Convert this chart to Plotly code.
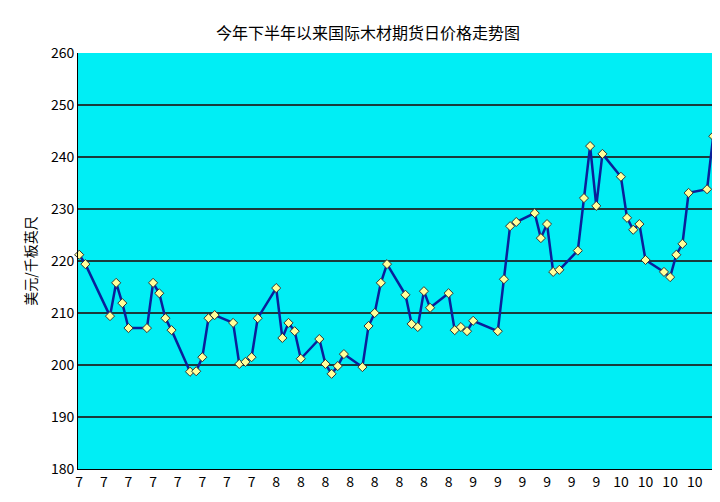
import plotly.graph_objects as go

day_index = [0,1,5,6,7,8,11,12,13,14,15,18,19,20,21,22,25,26,27,28,29,32,33,34,35,36,39,40,41,42,43,46,47,48,49,50,
             53,54,55,56,57,60,61,62,63,64,68,69,70,71,74,75,76,77,78,81,82,83,84,85,88,89,90,91,92,95,96,97,98,99,102,103,104,105]
price = [221.2,219.4,209.4,215.8,211.9,207.1,207.1,215.8,213.8,209.0,206.7,198.7,198.8,201.5,209.0,209.6,208.1,200.2,200.6,201.5,209.0,214.8,205.2,208.1,206.5,201.2,205.0,200.2,198.3,199.8,202.1,199.6,207.5,210.0,215.8,219.4,
         213.5,207.9,207.3,214.2,211.0,213.8,206.7,207.3,206.5,208.5,206.5,216.5,226.7,227.5,229.2,224.4,227.1,217.9,218.3,222.0,232.1,242.1,230.6,240.6,236.2,228.3,226.0,227.1,220.2,217.9,216.9,221.2,223.3,233.1,233.8,244.0,254.2,253.3]
tick_pos = list(range(0, 101, 4))
tick_text = ["7"]*8 + ["8"]*8 + ["9"]*6 + ["10"]*4

fig = go.Figure(go.Scatter(
    x=day_index, y=price, mode="lines+markers", cliponaxis=False,
    line=dict(color="#0a1f9a", width=2.5),
    marker=dict(color="#ffff99", size=7, symbol="diamond", line=dict(color="#333333", width=1)),
))
font = "Noto Sans CJK SC"
fig.update_layout(
    width=720, height=502, margin=dict(l=70, r=0, t=45, b=41, autoexpand=False),
    paper_bgcolor="white", plot_bgcolor="#00eef5",
    showlegend=False, font=dict(family=font, color="black", size=13),
    title=dict(text="今年下半年以来国际木材期货日价格走势图", x=0.5, xanchor="center",
               yref="container", y=0.96, font=dict(size=16)),
)
fig.update_xaxes(range=[-0.2, 105.4], tickvals=tick_pos, ticktext=tick_text, showgrid=False, automargin=False,
                 showline=True, linecolor="black", ticks="", tickfont=dict(size=14), zeroline=False)
fig.update_yaxes(range=[180, 260], dtick=10, showgrid=True, gridcolor="#1a3a3a", gridwidth=1.5, automargin=False,
                 showline=True, linecolor="black", ticks="", tickfont=dict(size=14), zeroline=False,
                 title=dict(text="美元/千板英尺", font=dict(size=14), standoff=10))
fig.write_html("out.html")
